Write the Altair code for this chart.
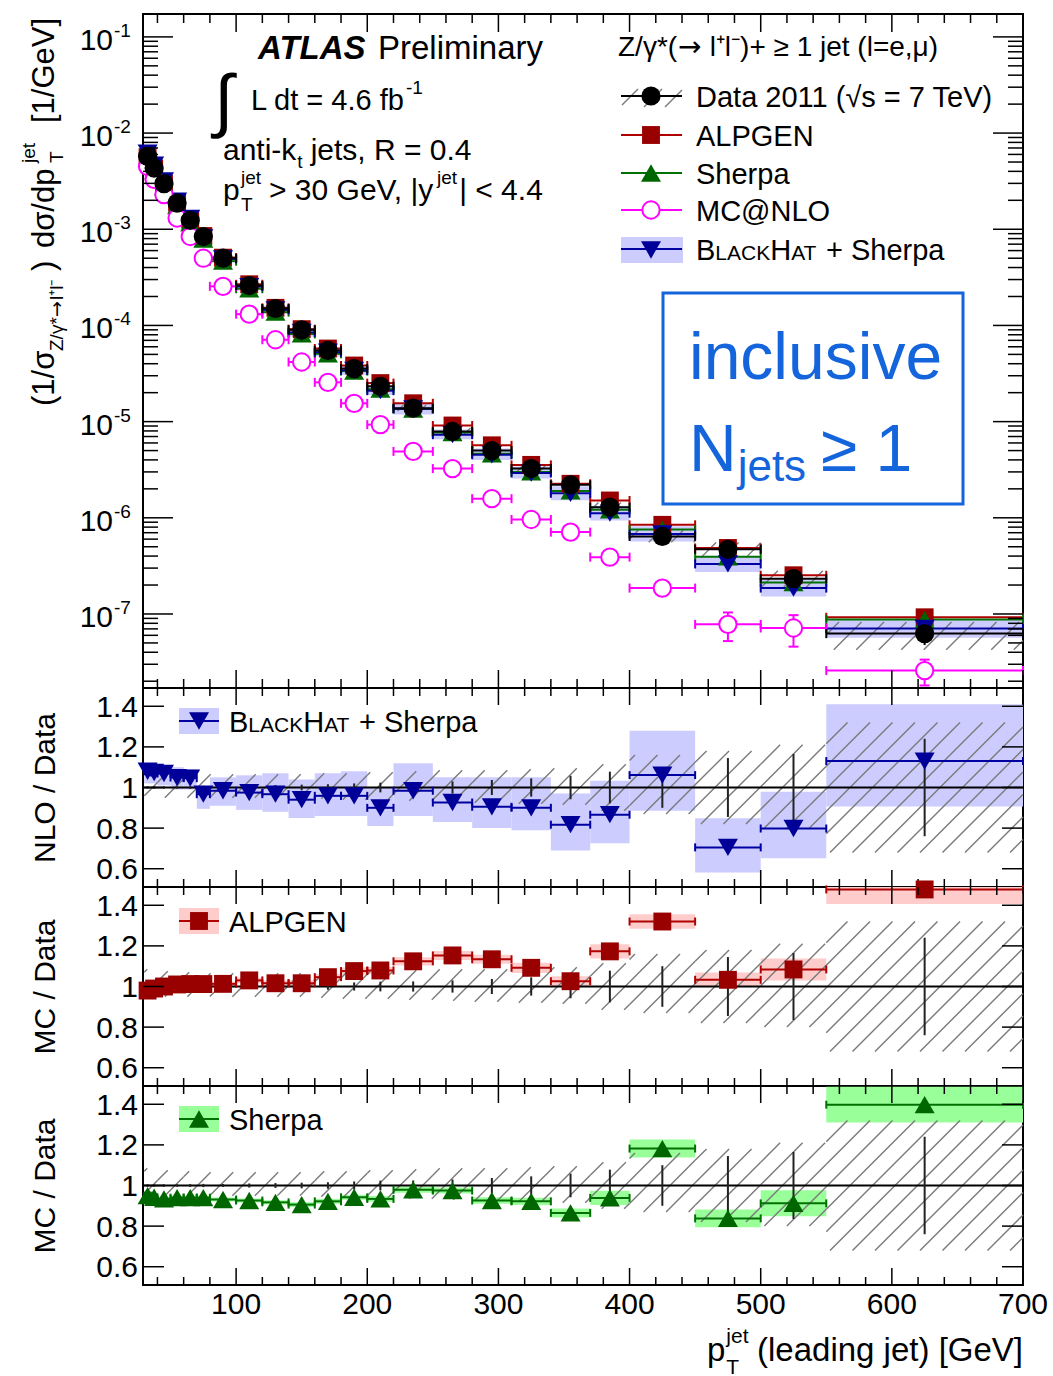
import math
import pandas as pd
import altair as alt

FONT = "Liberation Sans"

# ---------------- values ----------------
bin_lo = [30, 35, 40, 50, 60, 70, 80, 100, 120, 140, 160, 180, 200, 220, 250, 280, 310, 340, 370, 400, 450, 500, 550]
bin_hi = [35, 40, 50, 60, 70, 80, 100, 120, 140, 160, 180, 200, 220, 250, 280, 310, 340, 370, 400, 450, 500, 550, 700]

data_xsec = [5.73e-3, 4.33e-3, 2.98e-3, 1.87e-3, 1.24e-3, 8.4e-4, 5.0e-4, 2.6e-4, 1.5e-4, 9.0e-5, 5.5e-5, 3.56e-5,
             2.33e-5, 1.38e-5, 7.9e-6, 5.0e-6, 3.25e-6, 2.2e-6, 1.29e-6, 6.4e-7, 4.7e-7, 2.33e-7, 6.25e-8]
data_stat = [0.006, 0.006, 0.006, 0.006, 0.007, 0.008, 0.008, 0.01, 0.012, 0.014, 0.016, 0.02,
             0.024, 0.025, 0.03, 0.037, 0.045, 0.058, 0.078, 0.10, 0.145, 0.165, 0.24]
data_sys_lo = [0.05, 0.05, 0.05, 0.05, 0.05, 0.05, 0.05, 0.05, 0.05, 0.05, 0.055, 0.06,
               0.06, 0.065, 0.07, 0.075, 0.08, 0.085, 0.115, 0.13, 0.18, 0.20, 0.32]
data_sys_hi = [0.085, 0.08, 0.075, 0.07, 0.07, 0.07, 0.065, 0.065, 0.065, 0.065, 0.07, 0.07,
               0.075, 0.08, 0.085, 0.085, 0.09, 0.095, 0.115, 0.16, 0.18, 0.21, 0.32]

mcnlo_xsec = [4.5e-3, 3.3e-3, 2.29e-3, 1.31e-3, 8.4e-4, 5.0e-4, 2.55e-4, 1.31e-4, 7.1e-5, 4.17e-5, 2.56e-5, 1.55e-5,
              9.3e-6, 4.9e-6, 3.25e-6, 1.58e-6, 9.6e-7, 7.1e-7, 3.9e-7, 1.86e-7, 7.8e-8, 7.15e-8, 2.58e-8]
mcnlo_err = [0, 0, 0, 0, 0, 0, 0, 0, 0, 0, 0, 0, 0, 0, 0, 0, 0, 0, 0.03, 0.08, 0.33, 0.36, 0.30]

alpgen_ratio = [0.98, 0.99, 1.0, 1.01, 1.012, 1.012, 1.013, 1.03, 1.016, 1.016, 1.046, 1.076,
                1.079, 1.124, 1.153, 1.134, 1.092, 1.026, 1.173, 1.32, 1.033, 1.084, 1.478]
alpgen_err = [0.012, 0.012, 0.012, 0.012, 0.012, 0.012, 0.012, 0.014, 0.014, 0.016, 0.016, 0.018,
              0.018, 0.02, 0.022, 0.022, 0.025, 0.025, 0.035, 0.036, 0.036, 0.054, 0.072]

sherpa_ratio = [0.95, 0.942, 0.934, 0.94, 0.94, 0.94, 0.931, 0.926, 0.917, 0.906, 0.922, 0.942,
                0.934, 0.979, 0.975, 0.926, 0.922, 0.865, 0.939, 1.182, 0.838, 0.912, 1.398]
sherpa_err = [0.01, 0.01, 0.01, 0.01, 0.01, 0.01, 0.01, 0.01, 0.01, 0.012, 0.012, 0.012,
              0.014, 0.015, 0.015, 0.016, 0.018, 0.022, 0.035, 0.044, 0.044, 0.064, 0.088]

blackhat_ratio = [1.08, 1.074, 1.069, 1.049, 1.046, 0.967, 0.984, 0.975, 0.967, 0.94, 0.959, 0.959,
                  0.90, 0.984, 0.926, 0.905, 0.90, 0.817, 0.866, 1.061, 0.705, 0.798, 1.13]
blackhat_lo = [1.02, 1.02, 1.01, 0.99, 0.99, 0.895, 0.91, 0.89, 0.88, 0.85, 0.86, 0.86,
               0.81, 0.86, 0.83, 0.80, 0.79, 0.69, 0.725, 0.885, 0.582, 0.651, 0.907]
blackhat_hi = [1.12, 1.12, 1.11, 1.10, 1.09, 1.005, 1.05, 1.06, 1.07, 1.04, 1.07, 1.08,
               1.00, 1.12, 1.05, 1.05, 1.05, 0.97, 1.033, 1.279, 0.848, 0.979, 1.41]

x_major = [100, 200, 300, 400, 500, 600, 700]
x_major_labels = ["100", "200", "300", "400", "500", "600", "700"]
x_minor = [v for v in range(40, 700, 20) if v % 100 != 0]
main_y_major = [1e-1, 1e-2, 1e-3, 1e-4, 1e-5, 1e-6, 1e-7]
main_y_exp = ["-1", "-2", "-3", "-4", "-5", "-6", "-7"]
ratio_ticks = [0.6, 0.8, 1.0, 1.2, 1.4]
ratio_labels = ["0.6", "0.8", "1", "1.2", "1.4"]

# ---------------- layout / style ----------------
W = 880
H_MAIN = 674
H_R = 199
X_DOM = [29, 700]
YM_DOM = [1.7e-8, 0.173]
YR_DOM = [0.51, 1.49]
main_y_minor = [m * 10 ** e for e in range(-8, 0) for m in range(2, 10)
                if YM_DOM[0] < m * 10 ** e < YM_DOM[1]]

ALP_LINE, ALP_MARK, ALP_BAND = "#b00000", "#990000", "#ffcccc"
SHE_LINE, SHE_MARK, SHE_BAND = "#007000", "#006600", "#99ff99"
BH_LINE, BH_MARK, BH_BAND = "#0000a0", "#000099", "#ccccff"
NLO = "#ff00ff"
HATCH = "#7a7a7a"
BLUE = "#1464dc"

S_DATA, S_SQ, S_TRI, S_NLO = 370, 320, 400, 300

xscale = alt.Scale(domain=X_DOM, nice=False, zero=False)
ymscale = alt.Scale(type="log", domain=YM_DOM, nice=False)
yrscale = alt.Scale(domain=YR_DOM, nice=False, zero=False)


def X(f):
    return alt.X(f, type="quantitative", scale=xscale, axis=None)


def Ym(f):
    return alt.Y(f, type="quantitative", scale=ymscale, axis=None)


def Yr(f):
    return alt.Y(f, type="quantitative", scale=yrscale, axis=None)


ONE = pd.DataFrame({"k": [0]})

AW = {' ': 278, 'a': 556, 'b': 556, 'c': 500, 'd': 556, 'e': 556, 'f': 278, 'g': 556, 'h': 556, 'i': 222,
      'j': 222, 'k': 500, 'l': 222, 'm': 833, 'n': 556, 'o': 556, 'p': 556, 'r': 333, 's': 500, 't': 278,
      'u': 556, 'v': 500, 'y': 500, 'A': 667, 'B': 667, 'C': 722, 'D': 722, 'E': 667, 'G': 778, 'H': 722,
      'K': 667, 'L': 556, 'N': 722, 'O': 778, 'P': 667, 'R': 722, 'S': 667, 'T': 611, 'V': 667, 'Z': 611,
      '.': 278, ',': 278, '-': 333, '=': 584, '>': 584, '<': 584, '+': 584, '/': 278, '(': 333, ')': 333,
      '[': 278, ']': 278, '|': 260, '*': 389, '@': 1015, 'σ': 600, 'γ': 500, '→': 838, '≥': 549,
      'μ': 576, '√': 549, '⁺': 350, '⁻': 350}


def tw(s, fs):
    return sum(AW.get(ch, 556) for ch in s) * fs / 1000.0


def txt(s, x, y, fs, align="left", angle=0, color="black", weight="normal", style="normal",
        baseline="alphabetic", font=FONT):
    return alt.Chart(ONE).mark_text(text=s, font=font, fontSize=fs, align=align, baseline=baseline,
                                    angle=angle, color=color, fontWeight=weight, fontStyle=style).encode(
        x=alt.value(x), y=alt.value(y))


def sym(x, y, shape, size, fill, stroke=None, sw=0):
    kw = dict(shape=shape, size=size, filled=True, fill=fill, opacity=1, fillOpacity=1)
    if stroke:
        kw.update(stroke=stroke, strokeWidth=sw)
    else:
        kw.update(strokeWidth=0)
    return alt.Chart(ONE).mark_point(**kw).encode(x=alt.value(x), y=alt.value(y))


def prule(x1, y1, x2, y2, color, sw):
    return alt.Chart(ONE).mark_rule(color=color, strokeWidth=sw).encode(
        x=alt.value(x1), y=alt.value(y1), x2=alt.value(x2), y2=alt.value(y2))


def prect(x1, y1, x2, y2, fill, stroke=None, sw=0):
    kw = dict(fill=fill)
    if stroke:
        kw.update(stroke=stroke, strokeWidth=sw)
    return alt.Chart(ONE).mark_rect(**kw).encode(
        x=alt.value(x1), y=alt.value(y1), x2=alt.value(x2), y2=alt.value(y2))


# ---- hatch pattern segments (45 degree lines clipped to each bin's band) ----
PXX = W / (X_DOM[1] - X_DOM[0])
LM0, LM1 = math.log10(YM_DOM[0]), math.log10(YM_DOM[1])


def ux(x):
    return (x - X_DOM[0]) * PXX


def xu(u):
    return u / PXX + X_DOM[0]


def vm(y):
    return (math.log10(y) - LM0) * H_MAIN / (LM1 - LM0)


def ym_inv(v):
    return 10 ** (v * (LM1 - LM0) / H_MAIN + LM0)


def vr(y):
    return (y - YR_DOM[0]) * H_R / (YR_DOM[1] - YR_DOM[0])


def yr_inv(v):
    return v * (YR_DOM[1] - YR_DOM[0]) / H_R + YR_DOM[0]


def hatch(lo_vals, hi_vals, fv, finv, spacing=22.5):
    rows = []
    for x1, x2, a, b in zip(bin_lo, bin_hi, lo_vals, hi_vals):
        u1, u2 = ux(x1), ux(x2)
        v1, v2 = fv(a), fv(b)
        k0 = math.ceil((u1 - v2) / spacing)
        k1 = math.floor((u2 - v1) / spacing)
        for k in range(k0, k1 + 1):
            c = k * spacing
            ua = max(u1, v1 + c)
            ub = min(u2, v2 + c)
            if ub - ua > 0.3:
                rows.append(dict(x1=xu(ua), x2=xu(ub), y1=finv(ua - c), y2=finv(ub - c)))
    return pd.DataFrame(rows)


def tick_layers(H, yenc, ymaj, ymin, xL, xl, yL, yl):
    L = []
    for vals, ln in [(x_major, xL), (x_minor, xl)]:
        d = pd.DataFrame({"v": vals})
        L.append(alt.Chart(d).mark_rule(color="black", strokeWidth=1.5).encode(
            x=X("v"), y=alt.value(0), y2=alt.value(ln)))
        L.append(alt.Chart(d).mark_rule(color="black", strokeWidth=1.5).encode(
            x=X("v"), y=alt.value(H), y2=alt.value(H - ln)))
    for vals, ln in [(ymaj, yL), (ymin, yl)]:
        if not vals:
            continue
        d = pd.DataFrame({"v": vals})
        L.append(alt.Chart(d).mark_rule(color="black", strokeWidth=1.5).encode(
            y=yenc("v"), x=alt.value(0), x2=alt.value(ln)))
        L.append(alt.Chart(d).mark_rule(color="black", strokeWidth=1.5).encode(
            y=yenc("v"), x=alt.value(W), x2=alt.value(W - ln)))
    return L


# ================= main panel =================
OX, OY = 142, 13
m = pd.DataFrame({"lo": bin_lo, "hi": bin_hi})
m["c"] = (m.lo + m.hi) / 2
m["data"] = data_xsec
st = pd.Series(data_stat)
m["d_lo"] = m.data * (1 - st)
m["d_hi"] = m.data * (1 + st)
m["alp"] = m.data * pd.Series(alpgen_ratio)
m["she"] = m.data * pd.Series(sherpa_ratio)
m["bh"] = m.data * pd.Series(blackhat_ratio)
m["bh_lo"] = m.data * pd.Series(blackhat_lo)
m["bh_hi"] = m.data * pd.Series(blackhat_hi)
m["nlo"] = mcnlo_xsec
ne = pd.Series(mcnlo_err)
m["nlo_lo"] = m.nlo * (1 - ne)
m["nlo_hi"] = m.nlo * (1 + ne)
m["nerr"] = ne
sys_lo_abs = list(m.data * (1 - pd.Series(data_sys_lo)))
sys_hi_abs = list(m.data * (1 + pd.Series(data_sys_hi)))

ML = []
ML.append(alt.Chart(m).mark_rect(color=BH_BAND, opacity=1).encode(
    x=X("lo"), x2=alt.X2("hi"), y=Ym("bh_lo"), y2=alt.Y2("bh_hi")))
hm = hatch(sys_lo_abs, sys_hi_abs, vm, ym_inv)
ML.append(alt.Chart(hm).mark_rule(color=HATCH, strokeWidth=1.4).encode(
    x=X("x1"), x2=alt.X2("x2"), y=Ym("y1"), y2=alt.Y2("y2")))
for col, color in [("alp", ALP_LINE), ("she", SHE_LINE), ("bh", BH_LINE), ("nlo", NLO), ("data", "black")]:
    ML.append(alt.Chart(m).mark_rule(color=color, strokeWidth=2).encode(
        x=X("lo"), x2=alt.X2("hi"), y=Ym(col)))
    for e in ("lo", "hi"):
        ML.append(alt.Chart(m).mark_tick(orient="vertical", color=color, size=9, thickness=2, opacity=1).encode(
            x=X(e), y=Ym(col)))
mn = m[m.nerr > 0]
ML.append(alt.Chart(mn).mark_rule(color=NLO, strokeWidth=2).encode(x=X("c"), y=Ym("nlo_lo"), y2=alt.Y2("nlo_hi")))
for e in ("nlo_lo", "nlo_hi"):
    ML.append(alt.Chart(mn).mark_tick(orient="horizontal", color=NLO, size=10, thickness=2, opacity=1).encode(
        x=X("c"), y=Ym(e)))
ML.append(alt.Chart(m).mark_rule(color="black", strokeWidth=2).encode(x=X("c"), y=Ym("d_lo"), y2=alt.Y2("d_hi")))
ML.append(alt.Chart(m).mark_point(shape="square", filled=True, color=ALP_MARK, size=S_SQ, opacity=1).encode(
    x=X("c"), y=Ym("alp")))
ML.append(alt.Chart(m).mark_point(shape="triangle-up", filled=True, color=SHE_MARK, size=S_TRI, opacity=1).encode(
    x=X("c"), y=Ym("she")))
ML.append(alt.Chart(m).mark_point(shape="triangle-down", filled=True, color=BH_MARK, size=S_TRI, opacity=1).encode(
    x=X("c"), y=Ym("bh")))
ML.append(alt.Chart(m).mark_point(shape="circle", filled=True, fill="white", stroke=NLO, strokeWidth=2,
                                  size=S_NLO, opacity=1).encode(x=X("c"), y=Ym("nlo")))
ML.append(alt.Chart(m).mark_point(shape="circle", filled=True, color="black", size=S_DATA, opacity=1).encode(
    x=X("c"), y=Ym("data")))

ML += tick_layers(H_MAIN, Ym, main_y_major, main_y_minor, 18, 9, 30, 15)

ylab = pd.DataFrame({"v": main_y_major, "e": main_y_exp})
ML.append(alt.Chart(ylab).mark_text(text="10", font=FONT, fontSize=30, align="right", baseline="alphabetic",
                                     dy=13).encode(x=alt.value(-30), y=Ym("v")))
ML.append(alt.Chart(ylab).mark_text(font=FONT, fontSize=19, align="left", baseline="alphabetic",
                                     dy=0).encode(x=alt.value(-29), y=Ym("v"), text="e:N"))

# main y title (rotated pieces, reading bottom to top)
YT = [("(1/σ", 31, 53, 405, FONT), ("Z/γ*", 19, 62, 350, FONT), ("→", 19, 62, 316, "DejaVu Sans"),
      ("l⁺l⁻", 19, 62, 299, FONT), (")", 31, 53, 270, FONT),
      ("dσ/dp", 31, 53, 247, FONT), ("T", 19, 62, 162, FONT), ("jet", 19, 34, 162, FONT),
      ("[1/GeV]", 31, 53, 122, FONT)]
for s, fs, bx, sy, fnt in YT:
    ML.append(txt(s, bx - OX, sy - OY, fs, angle=270, font=fnt))

# annotations
ML.append(txt("ATLAS", 257 - OX, 58 - OY, 33, weight="bold", style="italic"))
ML.append(txt("Preliminary", 377 - OX, 58 - OY, 33))
ML.append(txt("∫", 213 - OX, 123 - OY, 70))
x0 = 250
ML.append(txt("L dt = 4.6 fb", x0 - OX, 109 - OY, 29))
ML.append(txt("-1", x0 + tw("L dt = 4.6 fb", 29) + 1 - OX, 93 - OY, 19))
x0 = 222
ML.append(txt("anti-k", x0 - OX, 159 - OY, 30))
x1 = x0 + tw("anti-k", 30) + 1
ML.append(txt("t", x1 - OX, 167 - OY, 19))
ML.append(txt("jets, R = 0.4", x1 + tw("t", 19) + 8 - OX, 159 - OY, 30))
ML.append(txt("p", 222 - OX, 199 - OY, 30))
ML.append(txt("jet", 240 - OX, 183 - OY, 19))
ML.append(txt("T", 240 - OX, 210 - OY, 19))
x1 = 268
ML.append(txt("> 30 GeV, |y", x1 - OX, 199 - OY, 30))
x2 = x1 + tw("> 30 GeV, |y", 30) + 1
ML.append(txt("jet", x2 - OX, 183 - OY, 19))
ML.append(txt("| < 4.4", x2 + tw("jet", 19) + 2 - OX, 199 - OY, 30))

# legend header
hx = 617
ML.append(txt("Z/γ*(", hx - OX, 55 - OY, 28))
hx += tw("Z/γ*(", 28) + 1
ML.append(txt("→", hx - OX, 55 - OY, 28, font="DejaVu Sans"))
hx += 0.84 * 28 + 8
ML.append(txt("l⁺l⁻)+ ≥ 1 jet (l=e,μ)", hx - OX, 55 - OY, 28))

LX1, LX2, LXC = 620 - OX, 681 - OX, 650 - OX
# data entry with hatch
for (a, b, c, d) in [(621, 104, 637, 88), (643, 106, 661, 88), (664, 106, 681, 89)]:
    ML.append(prule(a - OX, b - OY, c - OX, d - OY, HATCH, 1.4))
ML.append(prule(LX1, 95 - OY, LX2, 95 - OY, "black", 2))
ML.append(sym(LXC, 95 - OY, "circle", S_DATA, "black"))
ML.append(prule(LX1, 134 - OY, LX2, 134 - OY, ALP_LINE, 2))
ML.append(sym(LXC, 134 - OY, "square", S_SQ, ALP_MARK))
ML.append(prule(LX1, 172 - OY, LX2, 172 - OY, SHE_LINE, 2))
ML.append(sym(LXC, 172 - OY, "triangle-up", S_TRI, SHE_MARK))
ML.append(prule(LX1, 209 - OY, LX2, 209 - OY, NLO, 2))
ML.append(sym(LXC, 209 - OY, "circle", S_NLO, "white", NLO, 2))
ML.append(prect(LX1, 236 - OY, LX2 + 1, 262 - OY, BH_BAND))
ML.append(prule(LX1, 248 - OY, LX2, 248 - OY, BH_LINE, 2))
ML.append(sym(LXC, 249 - OY, "triangle-down", S_TRI, BH_MARK))
for s, y in [("Data 2011 (√s = 7 TeV)", 95), ("ALPGEN", 134), ("Sherpa", 172), ("MC@NLO", 209)]:
    ML.append(txt(s, 695 - OX, y + 10.5 - OY, 29))


def blackhat_label(layers, x, base, ox, oy):
    parts = [("B", 29), ("LACK", 21), ("H", 29), ("AT", 21)]
    for s, fs in parts:
        layers.append(txt(s, x - ox, base - oy, fs))
        x += tw(s, fs)
    layers.append(txt("+ Sherpa", x + 8 - ox, base - oy, 29))


blackhat_label(ML, 695, 258.5, OX, OY)

# inclusive box
ML.append(prect(662 - OX, 292 - OY, 962 - OX, 503 - OY, "transparent", BLUE, 3))
ML.append(txt("inclusive", 688 - OX, 378 - OY, 66, color=BLUE))
ML.append(txt("N", 688 - OX, 470 - OY, 66, color=BLUE))
ML.append(txt("jets", 688 + tw("N", 66) + 1 - OX, 480 - OY, 44, color=BLUE))
ML.append(txt("≥ 1", 820 - OX, 470 - OY, 66, color=BLUE))

# pin top-left corner of the page
ML.append(alt.Chart(ONE).mark_rule(strokeOpacity=0, strokeWidth=0.01).encode(
    x=alt.value(-OX), x2=alt.value(-OX + 1), y=alt.value(-OY), y2=alt.value(-OY + 1)))

main_chart = alt.layer(*ML).properties(width=W, height=H_MAIN)

# ================= ratio panels =================
hr = hatch([1 - v for v in data_sys_lo], [1 + v for v in data_sys_hi], vr, yr_inv)


def ratio_panel(ratio, blo, bhi, band, line, mark, shape, msize, oy, legend, title, bottom):
    d = pd.DataFrame({"lo": bin_lo, "hi": bin_hi})
    d["c"] = (d.lo + d.hi) / 2
    d["r"] = ratio
    d["blo"] = blo
    d["bhi"] = bhi
    d["s_lo"] = [1 - s for s in data_stat]
    d["s_hi"] = [1 + s for s in data_stat]
    one = pd.DataFrame({"v": [1.0]})
    L = []
    L.append(alt.Chart(d).mark_rect(color=band, opacity=1, clip=True).encode(
        x=X("lo"), x2=alt.X2("hi"), y=Yr("blo"), y2=alt.Y2("bhi")))
    L.append(alt.Chart(hr).mark_rule(color=HATCH, strokeWidth=1.4).encode(
        x=X("x1"), x2=alt.X2("x2"), y=Yr("y1"), y2=alt.Y2("y2")))
    L.append(alt.Chart(one).mark_rule(color="black", strokeWidth=2).encode(y=Yr("v")))
    L.append(alt.Chart(d).mark_rule(color="#222222", strokeWidth=2).encode(
        x=X("c"), y=Yr("s_lo"), y2=alt.Y2("s_hi")))
    L.append(alt.Chart(d).mark_rule(color=line, strokeWidth=2).encode(x=X("lo"), x2=alt.X2("hi"), y=Yr("r")))
    for e in ("lo", "hi"):
        L.append(alt.Chart(d).mark_tick(orient="vertical", color=line, size=8, thickness=2, opacity=1).encode(
            x=X(e), y=Yr("r")))
    L.append(alt.Chart(d).mark_point(shape=shape, filled=True, color=mark, size=msize, opacity=1).encode(
        x=X("c"), y=Yr("r")))
    L += tick_layers(H_R, Yr, ratio_ticks, [], 17, 8, 21, 0)
    lab = pd.DataFrame({"v": ratio_ticks, "t": ratio_labels})
    L.append(alt.Chart(lab).mark_text(font=FONT, fontSize=30, align="right", baseline="alphabetic", dy=10.5).encode(
        x=alt.value(-5), y=Yr("v"), text="t:N"))
    # legend
    L.append(prect(178 - OX, legend["y"] - 13 - oy, 218 - OX, legend["y"] + 13 - oy, band))
    L.append(prule(178 - OX, legend["y"] - oy, 218 - OX, legend["y"] - oy, line, 2))
    L.append(sym(198 - OX, legend["y"] - oy, shape, msize, mark))
    if legend["label"] == "BLACKHAT":
        blackhat_label(L, 228, legend["y"] + 10.5, OX, oy)
    else:
        L.append(txt(legend["label"], 228 - OX, legend["y"] + 10.5 - oy, 29))
    L.append(txt(title, 54 - OX, 100, 30, align="center", angle=270))
    if bottom:
        xl = pd.DataFrame({"v": x_major, "t": x_major_labels})
        L.append(alt.Chart(xl).mark_text(font=FONT, fontSize=30, align="center", baseline="alphabetic").encode(
            x=X("v"), y=alt.value(1313 - oy), text="t:N"))
        L.append(txt("p", 706 - OX, 1360 - oy, 33))
        L.append(txt("jet", 706 + tw("p", 33) + 1 - OX, 1342 - oy, 21))
        L.append(txt("T", 706 + tw("p", 33) + 1 - OX, 1373 - oy, 21))
        L.append(txt("(leading jet) [GeV]", 1022 - OX, 1360 - oy, 33, align="right"))
    return alt.layer(*L).properties(width=W, height=H_R)


r1 = ratio_panel(blackhat_ratio, blackhat_lo, blackhat_hi, BH_BAND, BH_LINE, BH_MARK, "triangle-down", S_TRI,
                 687, {"y": 720, "label": "BLACKHAT"}, "NLO / Data", False)
r2 = ratio_panel(alpgen_ratio, [a - e for a, e in zip(alpgen_ratio, alpgen_err)],
                 [a + e for a, e in zip(alpgen_ratio, alpgen_err)], ALP_BAND, ALP_LINE, ALP_MARK, "square", S_SQ,
                 886, {"y": 920, "label": "ALPGEN"}, "MC / Data", False)
r3 = ratio_panel(sherpa_ratio, [a - e for a, e in zip(sherpa_ratio, sherpa_err)],
                 [a + e for a, e in zip(sherpa_ratio, sherpa_err)], SHE_BAND, SHE_LINE, SHE_MARK, "triangle-up", S_TRI,
                 1085, {"y": 1118, "label": "Sherpa"}, "MC / Data", True)

chart = alt.vconcat(main_chart, r1, r2, r3, spacing=0, bounds="flush").properties(
    padding=0, background="white"
).configure_view(stroke="black", strokeWidth=2)

chart.save("out.html", embed_options={"renderer": "svg", "actions": False})
